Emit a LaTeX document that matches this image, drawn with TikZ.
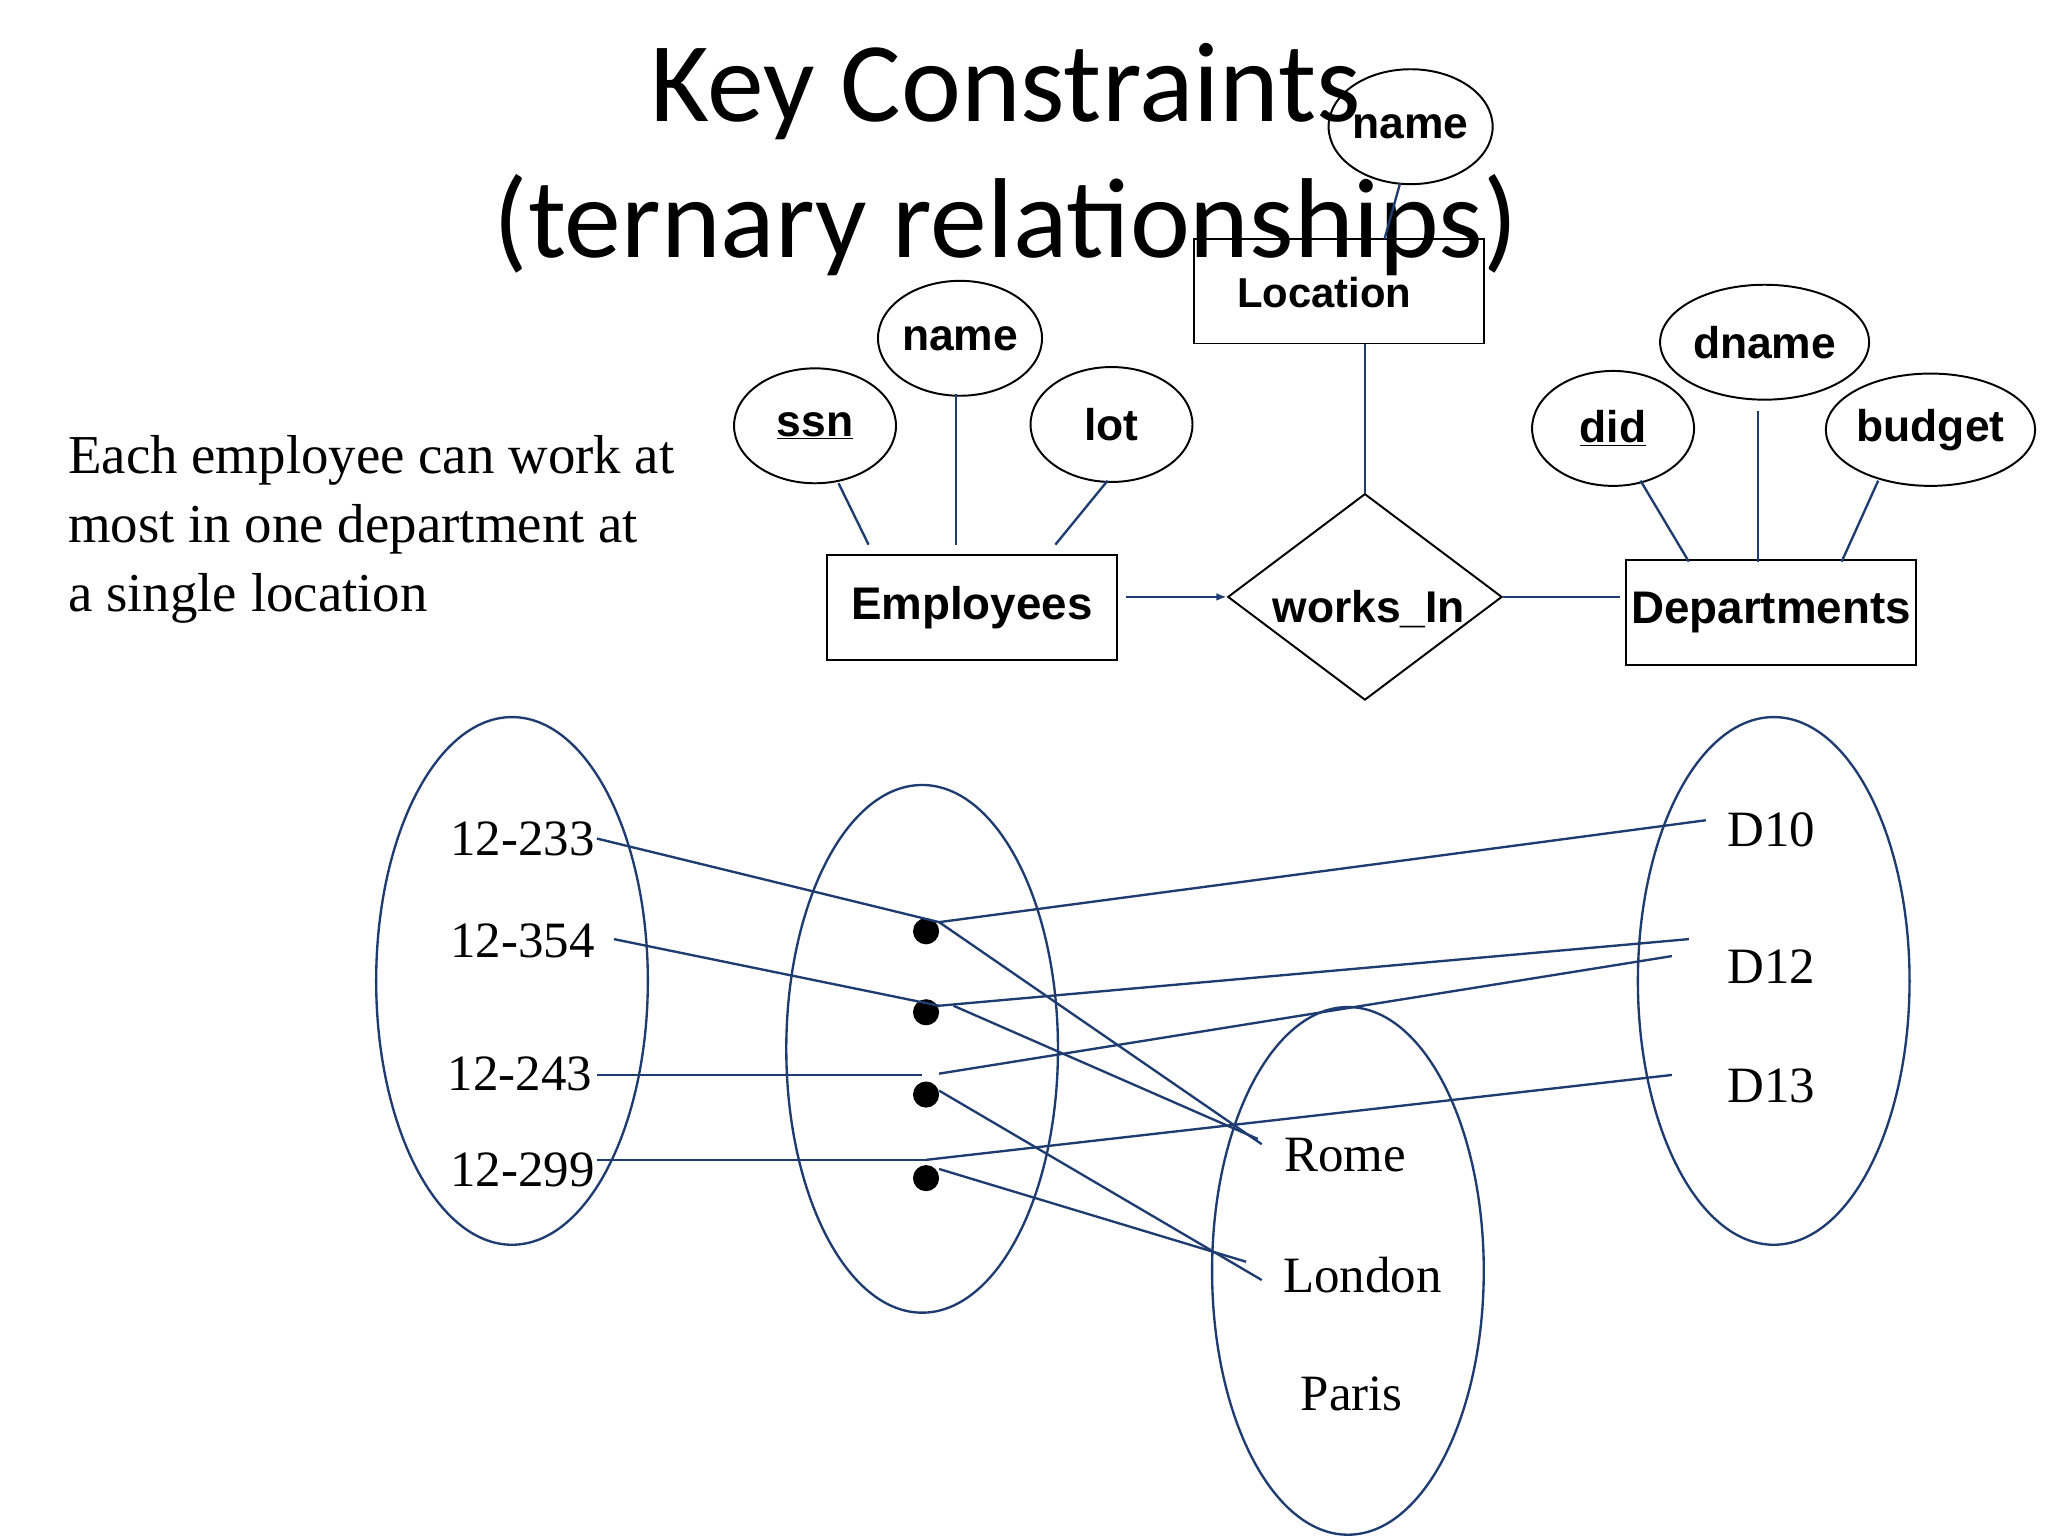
\documentclass[tikz,border=0pt]{standalone}
\usepackage{fontspec}
\setmainfont{Liberation Serif}
\newfontfamily\titlefont{Carlito}
\newfontfamily\erfont{Liberation Sans}
\usetikzlibrary{shapes.geometric,arrows.meta}
\definecolor{lineblue}{HTML}{1F3C70}
\begin{document}
\begin{tikzpicture}[x=1pt,y=-1pt,
  attr/.style={draw,line width=1.5pt,ellipse,minimum width=124pt,minimum height=88pt,inner sep=0pt,
    font=\erfont\bfseries\fontsize{34}{38}\selectfont},
  ent/.style={draw,line width=1.5pt,rectangle,minimum width=222pt,minimum height=80pt,
    font=\erfont\bfseries\fontsize{35}{38}\selectfont},
  conn/.style={lineblue,line width=1.8pt},
  set/.style={draw=lineblue,line width=1.8pt,ellipse,minimum width=208pt,minimum height=404pt},
  val/.style={font=\fontsize{39}{40}\selectfont,inner sep=0pt},
  dot/.style={circle,fill=black,inner sep=0pt,minimum size=20pt}]
\useasboundingbox (0,0) rectangle (1568,1176);
% title
\node[font=\titlefont\fontsize{87}{90}\selectfont] (t1) at (770,70) {Key Constraints};
\node[font=\titlefont\fontsize{87}{90}\selectfont] (t2) at (770,172) {(ternary relationships)};
% ER diagram
\node[attr] (lname) at (1080,97) {name};
\node[ent] (loc) at (1025,223) {};
\node[font=\erfont\bfseries\fontsize{32}{36}\selectfont] (loctext) at (1014,224) {Location};
\node[draw,line width=1.5pt,diamond,minimum width=210pt,minimum height=158pt,inner sep=0pt] (wi) at (1045,457) {};
\node[font=\erfont\bfseries\fontsize{34}{38}\selectfont] (witext) at (1048,466) {works\_In};
\node[ent] (emp) at (744,465) {Employees};
\node[ent] (dep) at (1356,469) {Departments};
\node[attr] (ssn) at (624,326) {\underline{ssn}};
\node[attr] (ename) at (735,259) {name};
\node[attr] (lot) at (851,325) {lot};
\node[attr] (did) at (1235,328) {\underline{did}};
\node[attr,minimum width=160pt] (dname) at (1351,262) {dname};
\node[attr,minimum width=156pt,minimum height=86pt] (budget) at (1478,329) {budget};
\coordinate (c1) at (1072,140); \coordinate (c2) at (1060,183);
\coordinate (c3) at (862,457); \coordinate (c4) at (1240,457);
\draw[conn] (c1) -- (c2);
\draw[conn] (1045,263) -- (wi.north);
\draw[conn,-{Latex[length=8pt]}] (c3) -- (wi.west);
\draw[conn] (wi.east) -- (c4);
\draw[conn] (642,370) -- (665,417);
\draw[conn] (732,302) -- (732,417);
\draw[conn] (848,368) -- (808,417);
\draw[conn] (1256,368) -- (1293,430);
\draw[conn] (1346,315) -- (1346,430);
\draw[conn] (1438,368) -- (1410,430);
% description
\node[align=left,anchor=north west,font=\fontsize{42}{53}\selectfont,inner sep=0pt] (desc) at (52,333)
  {Each employee can work at\\most in one department at\\a single location};
% instance diagram
\node[set] (es) at (392,751) {};
\node[set] (rs) at (706,803) {};
\node[set] (ds) at (1358,751) {};
\node[set] (ls) at (1032,973) {};
\node[val] (e1) at (400,642) {12-233};
\node[val] (e2) at (400,720) {12-354};
\node[val] (e3) at (398,822) {12-243};
\node[val] (e4) at (400,896) {12-299};
\node[val] (d1) at (1356,635) {D10};
\node[val] (d2) at (1356,740) {D12};
\node[val] (d3) at (1356,831) {D13};
\node[val] (l1) at (1030,884) {Rome};
\node[val] (l2) at (1043,976) {London};
\node[val] (l3) at (1035,1067) {Paris};
\node[dot] (r1) at (709,713) {};
\node[dot] (r2) at (709,775) {};
\node[dot] (r3) at (709,838) {};
\node[dot] (r4) at (709,902) {};
% connector ends
\coordinate (a1) at (457,642); \coordinate (a2) at (470,719);
\coordinate (a3) at (457,823); \coordinate (a4) at (457,888);
\coordinate (p1) at (719,706); \coordinate (p2) at (719,770);
\coordinate (p3a) at (706,823); \coordinate (p3b) at (719,822);
\coordinate (p3) at (719,835); \coordinate (p4) at (709,888);
\coordinate (p4b) at (719,895);
\coordinate (q1) at (1306,628); \coordinate (q2) at (1293,719);
\coordinate (q2b) at (1280,732); \coordinate (q3) at (1280,823);
\coordinate (m1) at (966,876); \coordinate (m2) at (963,872);
\coordinate (n1) at (966,980); \coordinate (n2) at (954,966);
\draw[conn] (a1) -- (p1);
\draw[conn] (p1) -- (q1);
\draw[conn] (p1) -- (m1);
\draw[conn] (a2) -- (p2);
\draw[conn] (p2) -- (q2);
\draw[conn] (730,770) -- (m2);
\draw[conn] (a3) -- (p3a);
\draw[conn] (p3b) -- (q2b);
\draw[conn] (p3) -- (n1);
\draw[conn] (a4) -- (p4);
\draw[conn] (p4) -- (q3);
\draw[conn] (p4b) -- (n2);
\end{tikzpicture}
\end{document}
